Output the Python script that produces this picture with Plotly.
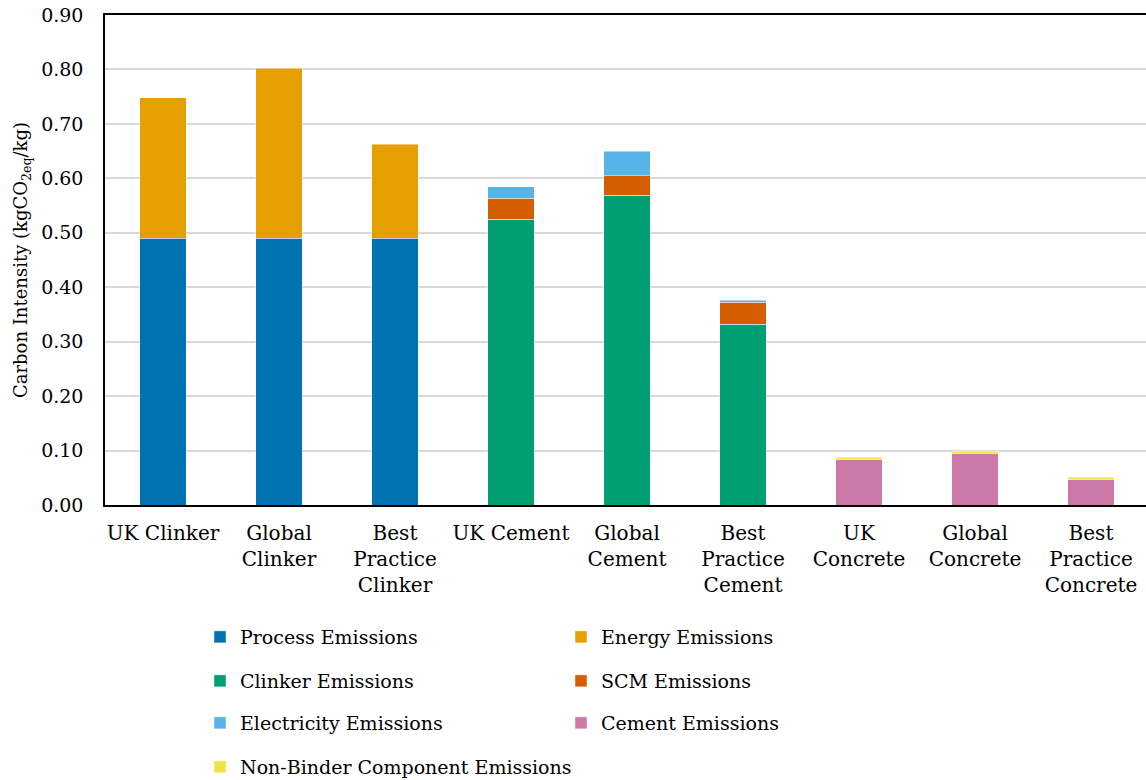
import plotly.graph_objects as go

categories = ["UK Clinker", "Global<br>Clinker", "Best<br>Practice<br>Clinker",
              "UK Cement", "Global<br>Cement", "Best<br>Practice<br>Cement",
              "UK<br>Concrete", "Global<br>Concrete", "Best<br>Practice<br>Concrete"]

process = [0.490, 0.490, 0.490, None, None, None, None, None, None]
energy = [0.258, 0.312, 0.173, None, None, None, None, None, None]
clinker = [None, None, None, 0.525, 0.569, 0.332, None, None, None]
scm = [None, None, None, 0.038, 0.036, 0.040, None, None, None]
electricity = [None, None, None, 0.022, 0.045, 0.004, None, None, None]
cement = [None, None, None, None, None, None, 0.083, 0.094, 0.046]
non_binder = [None, None, None, None, None, None, 0.005, 0.005, 0.005]

series = [
    ("Process Emissions", process, "#0072B2", "legend"),
    ("Energy Emissions", energy, "#E69F00", "legend"),
    ("Clinker Emissions", clinker, "#009E73", "legend2"),
    ("SCM Emissions", scm, "#D55E00", "legend2"),
    ("Electricity Emissions", electricity, "#56B4E9", "legend3"),
    ("Cement Emissions", cement, "#CC79A7", "legend3"),
    ("Non-Binder Component Emissions", non_binder, "#F0E442", "legend4"),
]

FONT = "DejaVu Serif"
fig = go.Figure()
for name, vals, color, leg in series:
    fig.add_trace(go.Bar(
        x=list(range(len(categories))), y=vals, name=name, legend=leg,
        marker=dict(color=color, line=dict(color="rgba(255,255,255,0.6)", width=0.75)),
        width=0.4,
    ))

W, H = 1146, 780
L, R, T, B = 105, 0, 15, 275
pw = W - L - R
ph = H - T - B

def cy(ypix):
    return 1 - ypix / H

def leg(ypix, ew):
    return dict(orientation="h", xref="container", yref="container",
                x=200 / W, xanchor="left", y=cy(ypix), yanchor="middle",
                entrywidth=ew, font=dict(family=FONT, size=19, color="black"),
                bgcolor="rgba(0,0,0,0)", traceorder="normal")

fig.update_layout(
    width=W, height=H,
    margin=dict(l=L, r=R, t=T, b=B, autoexpand=False),
    barmode="stack",
    plot_bgcolor="white", paper_bgcolor="white",
    font=dict(family=FONT, size=19, color="black"),
    legend=leg(637, 316),
    legend2=leg(681, 316),
    legend3=leg(723, 316),
    legend4=leg(767, 440),
    xaxis=dict(
        tickmode="array", tickvals=list(range(len(categories))), ticktext=categories,
        range=[-0.5, -0.5 + pw / 116.0],
        showline=True, linecolor="black", linewidth=2, mirror=True,
        showgrid=False, zeroline=False, ticks="", ticklabelstandoff=9,
        tickfont=dict(family=FONT, size=20, color="black"),
    ),
    yaxis=dict(
        range=[0, 0.9], tickmode="array",
        tickvals=[0, 0.1, 0.2, 0.3, 0.4, 0.5, 0.6, 0.7, 0.8, 0.9],
        ticktext=["0.00", "0.10", "0.20", "0.30", "0.40", "0.50", "0.60", "0.70", "0.80", "0.90"],
        showline=True, linecolor="black", linewidth=1.5, mirror=False,
        showgrid=True, gridcolor="#d9d9d9", gridwidth=1.5,
        zeroline=False, ticks="", ticklabelstandoff=16,
        tickfont=dict(family=FONT, size=19, color="black"),
        title=dict(text="Carbon Intensity (kgCO<sub>2eq</sub>/kg)",
                   font=dict(family=FONT, size=18, color="black"), standoff=9),
    ),
)

fig.write_html("out.html")
